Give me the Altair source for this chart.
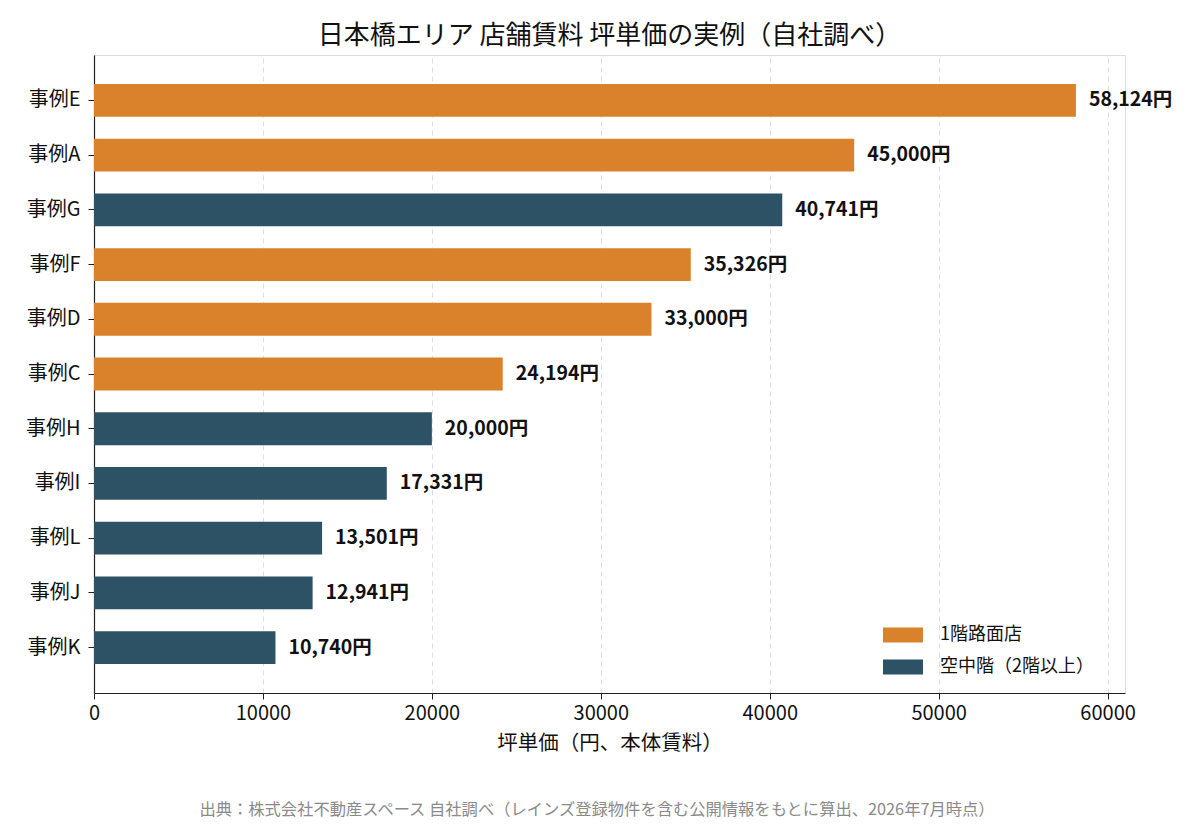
import altair as alt
import pandas as pd

categories = ["事例E", "事例A", "事例G", "事例F", "事例D", "事例C", "事例H", "事例I", "事例L", "事例J", "事例K"]
values = [58124, 45000, 40741, 35326, 33000, 24194, 20000, 17331, 13501, 12941, 10740]
types = ["1階路面店", "1階路面店", "空中階（2階以上）", "1階路面店", "1階路面店", "1階路面店",
         "空中階（2階以上）", "空中階（2階以上）", "空中階（2階以上）", "空中階（2階以上）", "空中階（2階以上）"]
type_order = ["1階路面店", "空中階（2階以上）"]
type_colors = ["#D9822B", "#2D5165"]
x_ticks = [0, 10000, 20000, 30000, 40000, 50000, 60000]

title_text = "日本橋エリア 店舗賃料 坪単価の実例（自社調べ）"
x_title = "坪単価（円、本体賃料）"
footer_text = "出典：株式会社不動産スペース 自社調べ（レインズ登録物件を含む公開情報をもとに算出、2026年7月時点）"

FONT = "Noto Sans CJK JP"

df = pd.DataFrame({"case": categories, "value": values, "type": types})

W, H = 1031, 638

y_enc = alt.Y("case:N", sort=categories, title=None,
              scale=alt.Scale(paddingInner=0.4, paddingOuter=0.53),
              axis=alt.Axis(labelFontSize=20, labelFont=FONT, labelColor="#111",
                            tickSize=6, tickColor="#222", domainColor="#222",
                            domainWidth=1.2, labelPadding=8, grid=False))
x_enc = alt.X("value:Q", title=x_title,
              scale=alt.Scale(domain=[0, 61030], nice=False, zero=True),
              axis=alt.Axis(values=x_ticks, format="d", labelFontSize=20, labelFont=FONT,
                            labelColor="#111", titleFont=FONT, titleFontSize=20.5,
                            titleFontWeight="normal", titleColor="#111", titlePadding=10,
                            tickSize=6, tickColor="#222", domainColor="#222", domainWidth=1.2,
                            labelPadding=4,
                            grid=True, gridDash=[5, 4], gridColor="#dddddd", gridWidth=1,
                            labelFlush=False))

bars = alt.Chart(df).mark_bar().encode(
    y=y_enc,
    x=x_enc,
    color=alt.Color("type:N", scale=alt.Scale(domain=type_order, range=type_colors),
                    title=None,
                    legend=alt.Legend(orient="none", legendX=789, legendY=560,
                                      labelFont=FONT, labelFontSize=18, labelColor="#111",
                                      symbolType="M-1,-0.38L1,-0.38L1,0.38L-1,0.38Z",
                                      symbolSize=1600, symbolStrokeWidth=0,
                                      symbolOpacity=1, rowPadding=3, labelOffset=17)),
)

labels = alt.Chart(df).transform_calculate(
    label="format(datum.value, ',') + '円'"
).mark_text(align="left", baseline="middle", dx=13, fontSize=19.5, fontWeight="bold",
            font=FONT, color="#111").encode(
    y=alt.Y("case:N", sort=categories),
    x=alt.X("value:Q"),
    text="label:N",
)

footer = alt.Chart(pd.DataFrame({"t": [footer_text]})).mark_text(
    fontSize=16.3, font=FONT, color="#8a8a8a", align="center", baseline="middle"
).encode(
    x=alt.value(503), y=alt.value(755), text="t:N"
)

chart = alt.layer(bars, labels, footer).properties(
    width=W, height=H,
    title=alt.TitleParams(title_text, font=FONT, fontSize=26, fontWeight="normal",
                          color="#111", anchor="middle", offset=6),
    autosize=alt.AutoSizeParams(type="none"),
    padding={"left": 86, "top": 47, "right": 67, "bottom": 132},
).configure_view(stroke=None).configure(background="white")

chart.save("out.html", embed_options={"renderer": "svg", "actions": False})
